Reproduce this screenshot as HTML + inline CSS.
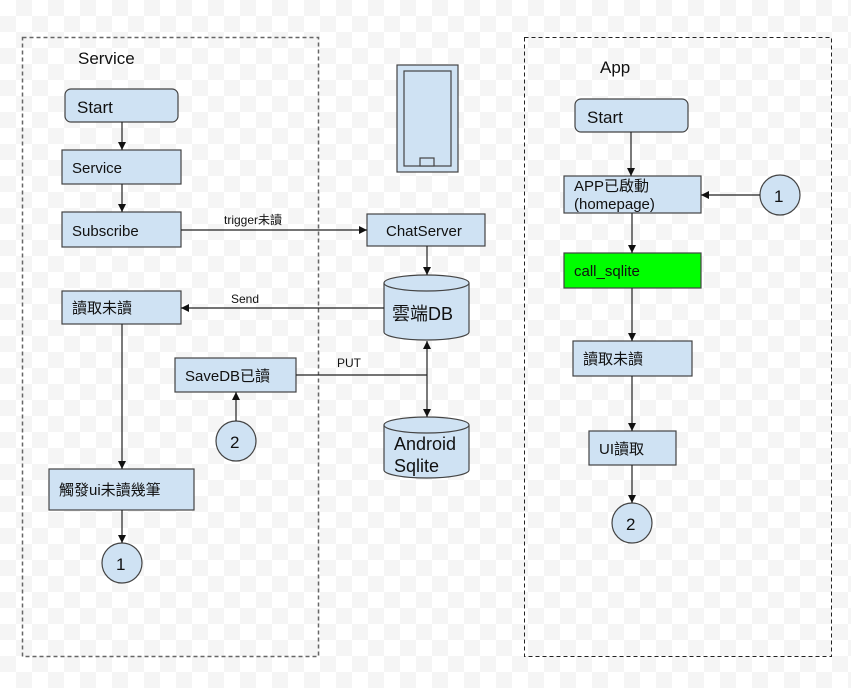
<!DOCTYPE html>
<html><head><meta charset="utf-8"><style>
html,body{margin:0;padding:0;}
body{width:851px;height:683px;overflow:hidden;background-color:#fff;
background-image:conic-gradient(#f5f5f5 25%,#fff 0 50%,#f5f5f5 0 75%,#fff 0);background-size:32px 32px;}
text{font-family:"Liberation Sans","Noto Sans CJK TC",sans-serif;fill:#111;}
</style></head><body>
<svg width="851" height="683" xmlns="http://www.w3.org/2000/svg">
<defs><marker id="a" markerWidth="10" markerHeight="10" refX="9" refY="5" orient="auto" markerUnits="userSpaceOnUse"><path d="M1,1 L9,5 L1,9 Z" fill="#111"/></marker></defs>
<g fill="none">
<rect x="22.5" y="37.5" width="296" height="619" stroke="#666" stroke-width="1.5" stroke-dasharray="4,3"/>
<rect x="524.5" y="37.5" width="307" height="619" stroke="#222" stroke-width="1" stroke-dasharray="4,3"/>
</g>
<g fill="#cfe2f3" stroke="#444" stroke-width="1.2">
<rect x="65" y="89" width="113" height="33" rx="6"/>
<rect x="62" y="150" width="119" height="34"/>
<rect x="62" y="212" width="119" height="35"/>
<rect x="62" y="291" width="119" height="33"/>
<rect x="175" y="358" width="121" height="34"/>
<circle cx="236" cy="441" r="20"/>
<rect x="49" y="469" width="145" height="41"/>
<circle cx="122" cy="563" r="20"/>
<rect x="367" y="214" width="118" height="32"/>
<rect x="397" y="65" width="61" height="107"/>
<rect x="404" y="71" width="47" height="95"/>
<rect x="420" y="158" width="14" height="8"/>
<path d="M384,283 A42.5,8 0 0 1 469,283 L469,332 A42.5,8 0 0 1 384,332 Z"/>
<path d="M384,283 A42.5,8 0 0 0 469,283"/>
<path d="M384,425 A42.5,8 0 0 1 469,425 L469,470 A42.5,8 0 0 1 384,470 Z"/>
<path d="M384,425 A42.5,8 0 0 0 469,425"/>
<rect x="575" y="99" width="113" height="33" rx="6"/>
<rect x="564" y="176" width="137" height="37"/>
<circle cx="780" cy="195" r="20"/>
<rect x="564" y="253" width="137" height="35" fill="#00ff00"/>
<rect x="573" y="341" width="119" height="35"/>
<rect x="589" y="431" width="87" height="34"/>
<circle cx="632" cy="523" r="20"/>
</g>
<g stroke="#222" stroke-width="1.2" fill="none" marker-end="url(#a)">
<path d="M122,122 V150"/>
<path d="M122,184 V212"/>
<path d="M122,324 V469"/>
<path d="M122,510 V543"/>
<path d="M236,421 V392"/>
<path d="M181,230 H367"/>
<path d="M427,246 V275"/>
<path d="M384,308 H181"/>
<path d="M427,375 V341"/>
<path d="M427,375 V417"/>
<path d="M631,132 V176"/>
<path d="M760,195 H701"/>
<path d="M632,213 V253"/>
<path d="M632,288 V341"/>
<path d="M632,376 V431"/>
<path d="M632,465 V503"/>
</g>
<path d="M296,375 H427" stroke="#222" stroke-width="1.2"/>
<text x="78" y="64" font-size="17">Service</text>
<text x="77" y="113" font-size="17">Start</text>
<text x="72" y="173" font-size="15">Service</text>
<text x="72" y="236" font-size="15">Subscribe</text>
<text x="224" y="224" font-size="12">trigger未讀</text>
<text x="386" y="236" font-size="15">ChatServer</text>
<text x="231" y="303" font-size="12">Send</text>
<text x="72" y="313" font-size="15">讀取未讀</text>
<text x="392" y="320" font-size="18">雲端DB</text>
<text x="337" y="367" font-size="12">PUT</text>
<text x="185" y="381" font-size="15">SaveDB已讀</text>
<text x="230" y="448" font-size="17">2</text>
<text x="394" y="450" font-size="18">Android</text>
<text x="394" y="472" font-size="18">Sqlite</text>
<text x="59" y="495" font-size="15">觸發ui未讀幾筆</text>
<text x="116" y="570" font-size="17">1</text>
<text x="600" y="73" font-size="17">App</text>
<text x="587" y="123" font-size="17">Start</text>
<text x="574" y="191" font-size="15">APP已啟動</text>
<text x="574" y="209" font-size="15">(homepage)</text>
<text x="774" y="202" font-size="17">1</text>
<text x="574" y="276" font-size="15">call_sqlite</text>
<text x="583" y="364" font-size="15">讀取未讀</text>
<text x="599" y="454" font-size="15">UI讀取</text>
<text x="626" y="530" font-size="17">2</text>
</svg>
</body></html>
